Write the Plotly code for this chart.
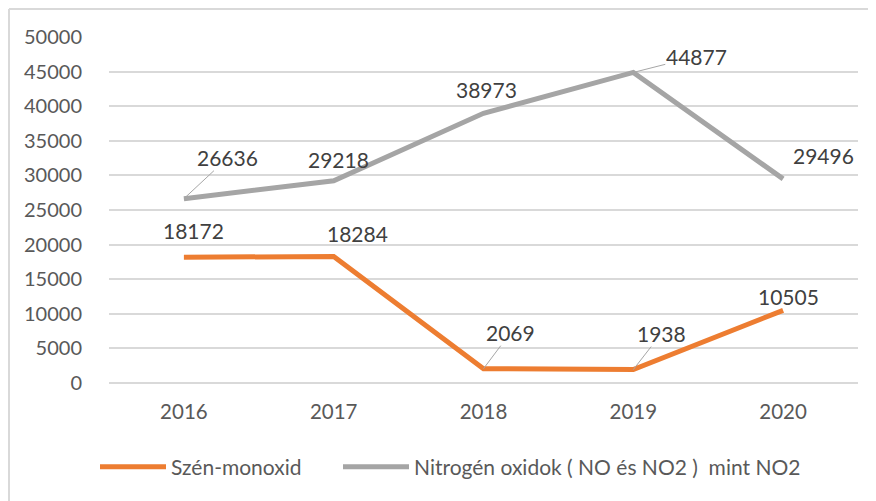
import plotly.graph_objects as go

years = ["2016", "2017", "2018", "2019", "2020"]
co_values = [18172, 18284, 2069, 1938, 10505]
nox_values = [26636, 29218, 38973, 44877, 29496]
co_name = "Szén-monoxid"
nox_name = "Nitrogén oxidok ( NO és NO2 )  mint NO2"
y_ticks = [0, 5000, 10000, 15000, 20000, 25000, 30000, 35000, 40000, 45000, 50000]

ORANGE = "#ED7D31"
GRAY = "#A5A5A5"
TXT = "#595959"
LBL = "#404040"
FONT = "Lato"

# the page body adds an 8px offset; the figure is sized to fit the window
OFF = 8
W, H = 876 - OFF, 501 - OFF
# plot area in screen pixels: x 109..858, y 37..383
ML, MT = 109 - OFF, 37 - OFF
MR, MB = W - (858 - OFF), H - (383 - OFF)

xpos = list(range(len(years)))

# label placement (pixel offsets of label centre from the point, leader flag)
co_offsets = [(10, -27, False), (24, -23, False), (27, -36, True), (28, -36, True), (5, -14, False)]
nox_offsets = [(44, -41, True), (5, -21, False), (3, -24, False), (63, -16, True), (40, -23, False)]

fig = go.Figure()
fig.add_trace(go.Scatter(x=xpos, y=co_values, mode="lines", name=co_name,
                         line=dict(color=ORANGE, width=5), legend="legend"))
fig.add_trace(go.Scatter(x=xpos, y=nox_values, mode="lines", name=nox_name,
                         line=dict(color=GRAY, width=5), legend="legend2"))

annotations = []
for vals, offs in ((co_values, co_offsets), (nox_values, nox_offsets)):
    for xi, v, (dx, dy, lead) in zip(xpos, vals, offs):
        if lead:
            annotations.append(dict(x=xi, y=v, xref="x", yref="y", text=str(v),
                                    showarrow=True, arrowhead=0, arrowwidth=1,
                                    arrowcolor="#A6A6A6", standoff=0,
                                    ax=dx, ay=dy, borderpad=0,
                                    font=dict(family=FONT, size=21, color=LBL)))
        else:
            annotations.append(dict(x=xi, y=v, xref="x", yref="y", text=str(v),
                                    showarrow=False, xshift=dx, yshift=-dy,
                                    font=dict(family=FONT, size=21, color=LBL)))

pw = W - ML - MR
ph = H - MT - MB
def px_x(p):  # screen px -> paper
    return (p - OFF - ML) / pw
def px_y(p):
    return (H - MB - (p - OFF)) / ph

shapes = [
    dict(type="line", xref="paper", yref="paper", x0=px_x(9), x1=px_x(9),
         y0=px_y(H + OFF + 5), y1=px_y(9), line=dict(color="#D9D9D9", width=2)),
    dict(type="line", xref="paper", yref="paper", x0=px_x(9), x1=px_x(W + OFF + 5),
         y0=px_y(9), y1=px_y(9), line=dict(color="#D9D9D9", width=2)),
]

leg_common = dict(orientation="h", xanchor="left", yanchor="middle",
                  font=dict(family=FONT, size=21, color=TXT), itemwidth=66,
                  tracegroupgap=0, bgcolor="rgba(0,0,0,0)", borderwidth=0)

fig.update_layout(
    width=W, height=H,
    margin=dict(l=ML, r=MR, t=MT, b=MB, pad=0, autoexpand=False),
    paper_bgcolor="white", plot_bgcolor="white",
    font=dict(family=FONT, size=21, color=TXT),
    showlegend=True,
    legend=dict(x=px_x(95), y=px_y(467), **leg_common),
    legend2=dict(x=px_x(338), y=px_y(467), **leg_common),
    annotations=annotations,
    shapes=shapes,
    xaxis=dict(range=[-0.5, 4.5], tickvals=xpos, ticktext=years, showgrid=False,
               zeroline=False, showline=False, automargin=False,
               ticks="", tickfont=dict(family=FONT, size=20.5, color=TXT),
               ticklabelstandoff=14),
    yaxis=dict(range=[0, 50000], tickvals=y_ticks, tickformat="d", showgrid=True,
               gridcolor="#D9D9D9", automargin=False,
               gridwidth=1.5, zeroline=True, zerolinecolor="#D9D9D9", zerolinewidth=1.5,
               showline=False, ticks="", tickfont=dict(family=FONT, size=20, color=TXT),
               ticklabelstandoff=26),
)

fig.write_html("out.html")
